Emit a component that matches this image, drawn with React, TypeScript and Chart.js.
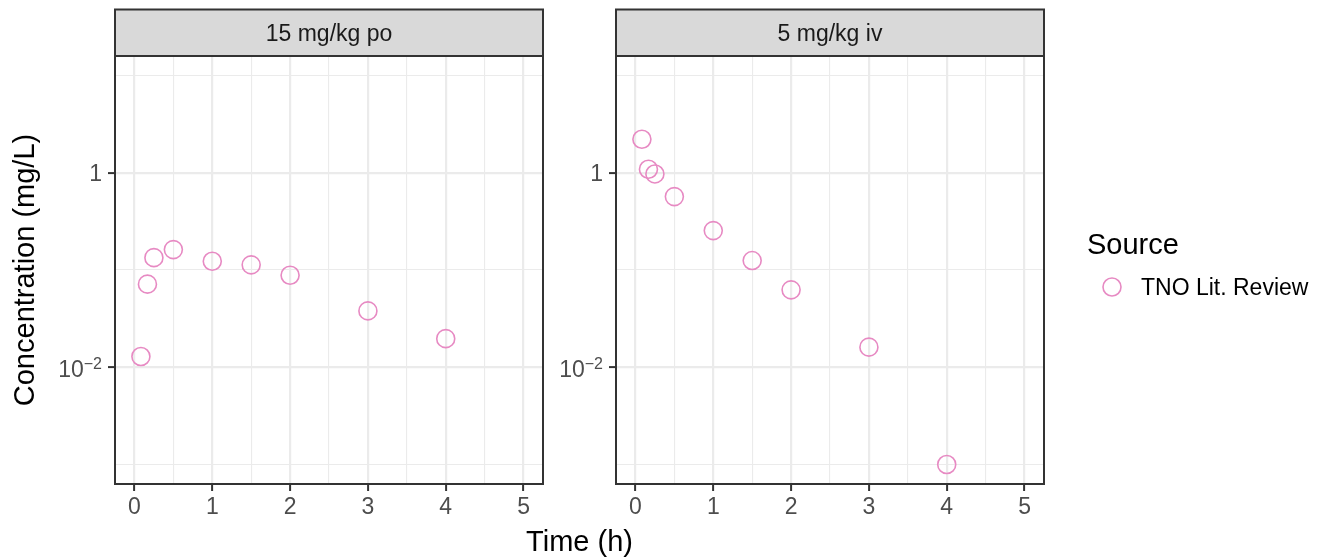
import React, { useEffect, useRef } from "react";
import { Chart, registerables } from "chart.js";

Chart.register(...registerables);

// ---------------- data ----------------
const panelTitles = ["15 mg/kg po", "5 mg/kg iv"];
const timePo = [0.083, 0.167, 0.25, 0.5, 1, 1.5, 2, 3, 4];
const concPo = [0.0129, 0.0715, 0.134, 0.162, 0.123, 0.113, 0.0884, 0.038, 0.0197];
const timeIv = [0.083, 0.167, 0.25, 0.5, 1, 1.5, 2, 3, 4];
const concIv = [2.21, 1.086, 0.972, 0.568, 0.254, 0.125, 0.0625, 0.0161, 0.001];
const xTickValues = [0, 0.5, 1, 1.5, 2, 2.5, 3, 3.5, 4, 4.5, 5];
const xTickLabels = ["0", "", "1", "", "2", "", "3", "", "4", "", "5"];
const yTickValues = [0.001, 0.01, 0.1, 1, 10];
const yMajorValues = [0.01, 1];
const xTitle = "Time (h)";
const yTitle = "Concentration (mg/L)";
const legendTitle = "Source";
const seriesName = "TNO Lit. Review";

// ---------------- style / layout ----------------
const W = 1317;
const H = 557;
const STRIP_TOP = 9.5;
const PANEL_TOP = 56;
const PANEL_BOTTOM = 484;
const PANELS = [
  { left: 115, right: 543 },
  { left: 616, right: 1044 },
];
const FONT = "'Liberation Sans', Arial, Helvetica, sans-serif";
const POINT_COLOR = "#E78AC3";
const GRID = "#EBEBEB";
const DARK = "#333333";

const isMajorX = (v: number) => Math.abs(v - Math.round(v)) < 1e-9;
const isMajorY = (v: number) => yMajorValues.some((m) => Math.abs(Math.log10(v) - Math.log10(m)) < 1e-6);

function decorPlugin(idx: number) {
  return {
    id: "decor" + idx,
    afterDraw(chart: any) {
      const ctx = chart.ctx as CanvasRenderingContext2D;
      const a = chart.chartArea;
      ctx.save();
      // strip
      ctx.fillStyle = "#D9D9D9";
      ctx.fillRect(a.left, STRIP_TOP, a.right - a.left, a.top - STRIP_TOP);
      ctx.strokeStyle = DARK;
      ctx.lineWidth = 2;
      ctx.strokeRect(a.left, STRIP_TOP, a.right - a.left, a.top - STRIP_TOP);
      // panel border
      ctx.strokeRect(a.left, a.top, a.right - a.left, a.bottom - a.top);
      // strip text
      ctx.fillStyle = "#1A1A1A";
      ctx.font = `23px ${FONT}`;
      ctx.textAlign = "center";
      ctx.textBaseline = "alphabetic";
      ctx.fillText(panelTitles[idx], (a.left + a.right) / 2, STRIP_TOP + (a.top - STRIP_TOP) / 2 + 8.3);

      // y tick labels (with superscript exponents)
      const ys = chart.scales.y;
      ctx.fillStyle = "#4D4D4D";
      ctx.textAlign = "right";
      const xr = a.left - 13;
      for (const v of yMajorValues) {
        const py = ys.getPixelForValue(v);
        const exp = Math.round(Math.log10(v));
        if (exp === 0) {
          ctx.font = `23px ${FONT}`;
          ctx.fillText("1", xr, py + 8.2);
        } else {
          const sup = (exp < 0 ? "\u2212" : "") + String(Math.abs(exp));
          ctx.font = `16px ${FONT}`;
          const sw = ctx.measureText(sup).width;
          ctx.fillText(sup, xr, py + 1.5);
          ctx.font = `23px ${FONT}`;
          ctx.fillText("10", xr - sw, py + 9.5);
        }
      }

      if (idx === 0) {
        // y title
        ctx.fillStyle = "#000000";
        ctx.font = `29px ${FONT}`;
        ctx.textAlign = "center";
        ctx.save();
        ctx.translate(34, (a.top + a.bottom) / 2);
        ctx.rotate(-Math.PI / 2);
        ctx.fillText(yTitle, 0, 0);
        ctx.restore();
        // x title (centered across both panels)
        ctx.fillText(xTitle, (PANELS[0].left + PANELS[1].right) / 2, 551);
      } else {
        // legend
        ctx.fillStyle = "#000000";
        ctx.textAlign = "left";
        ctx.font = `29px ${FONT}`;
        ctx.fillText(legendTitle, 1087, 253.5);
        ctx.beginPath();
        ctx.arc(1112, 287, 9, 0, Math.PI * 2);
        ctx.strokeStyle = POINT_COLOR;
        ctx.lineWidth = 1.6;
        ctx.stroke();
        ctx.font = `23px ${FONT}`;
        ctx.fillText(seriesName, 1141, 295.3);
      }
      ctx.restore();
    },
  };
}

function makeConfig(idx: number, times: number[], conc: number[]): any {
  const p = PANELS[idx];
  return {
    type: "scatter",
    data: {
      datasets: [
        {
          label: seriesName,
          data: times.map((t, i) => ({ x: t, y: conc[i] })),
          pointStyle: "circle",
          pointRadius: 9,
          pointHoverRadius: 9,
          pointBorderWidth: 1.6,
          borderColor: POINT_COLOR,
          backgroundColor: "rgba(0,0,0,0)",
          showLine: false,
        },
      ],
    },
    options: {
      responsive: false,
      animation: false,
      devicePixelRatio: 1,
      events: [],
      layout: { padding: { top: PANEL_TOP, right: W - p.right, bottom: 0, left: 0 } },
      plugins: { legend: { display: false }, tooltip: { enabled: false }, title: { display: false } },
      scales: {
        x: {
          type: "linear",
          position: "bottom",
          min: -0.25,
          max: 5.25,
          afterBuildTicks: (s: any) => {
            s.ticks = xTickValues.map((v) => ({ value: v }));
          },
          afterFit: (s: any) => {
            s.height = H - PANEL_BOTTOM;
          },
          border: { display: false },
          grid: {
            color: GRID,
            lineWidth: (c: any) => (c.tick && isMajorX(c.tick.value) ? 2.2 : 1.1),
            drawTicks: true,
            tickLength: 7,
            tickWidth: 2,
            tickColor: (c: any) => (c.tick && isMajorX(c.tick.value) ? DARK : "rgba(0,0,0,0)"),
          },
          ticks: {
            callback: (_v: any, i: number) => xTickLabels[i] ?? "",
            autoSkip: false,
            maxRotation: 0,
            minRotation: 0,
            padding: 3,
            color: "#4D4D4D",
            font: { family: FONT, size: 23 },
          },
        },
        y: {
          type: "logarithmic",
          position: "left",
          bounds: "data",
          min: Math.pow(10, -3.2),
          max: Math.pow(10, 1.2),
          afterBuildTicks: (s: any) => {
            s.ticks = yTickValues.map((v) => ({ value: v }));
          },
          afterFit: (s: any) => {
            s.width = p.left;
          },
          border: { display: false },
          grid: {
            color: GRID,
            lineWidth: (c: any) => (c.tick && isMajorY(c.tick.value) ? 2.2 : 1.1),
            drawTicks: true,
            tickLength: 7,
            tickWidth: 2,
            tickColor: (c: any) => (c.tick && isMajorY(c.tick.value) ? DARK : "rgba(0,0,0,0)"),
          },
          ticks: { display: false },
        },
      },
    },
    plugins: [decorPlugin(idx)],
  };
}

export default function App() {
  const ref0 = useRef<HTMLCanvasElement>(null);
  const ref1 = useRef<HTMLCanvasElement>(null);

  useEffect(() => {
    const c0 = new Chart(ref0.current as HTMLCanvasElement, makeConfig(0, timePo, concPo));
    const c1 = new Chart(ref1.current as HTMLCanvasElement, makeConfig(1, timeIv, concIv));
    return () => {
      c0.destroy();
      c1.destroy();
    };
  }, []);

  const canvasStyle: React.CSSProperties = {
    position: "absolute",
    left: 0,
    top: 0,
    width: W,
    height: H,
    display: "block",
  };

  return (
    <div style={{ position: "absolute", left: 0, top: 0, width: W, height: H, background: "#FFFFFF", overflow: "hidden" }}>
      <canvas ref={ref0} width={W} height={H} style={canvasStyle} />
      <canvas ref={ref1} width={W} height={H} style={canvasStyle} />
    </div>
  );
}
